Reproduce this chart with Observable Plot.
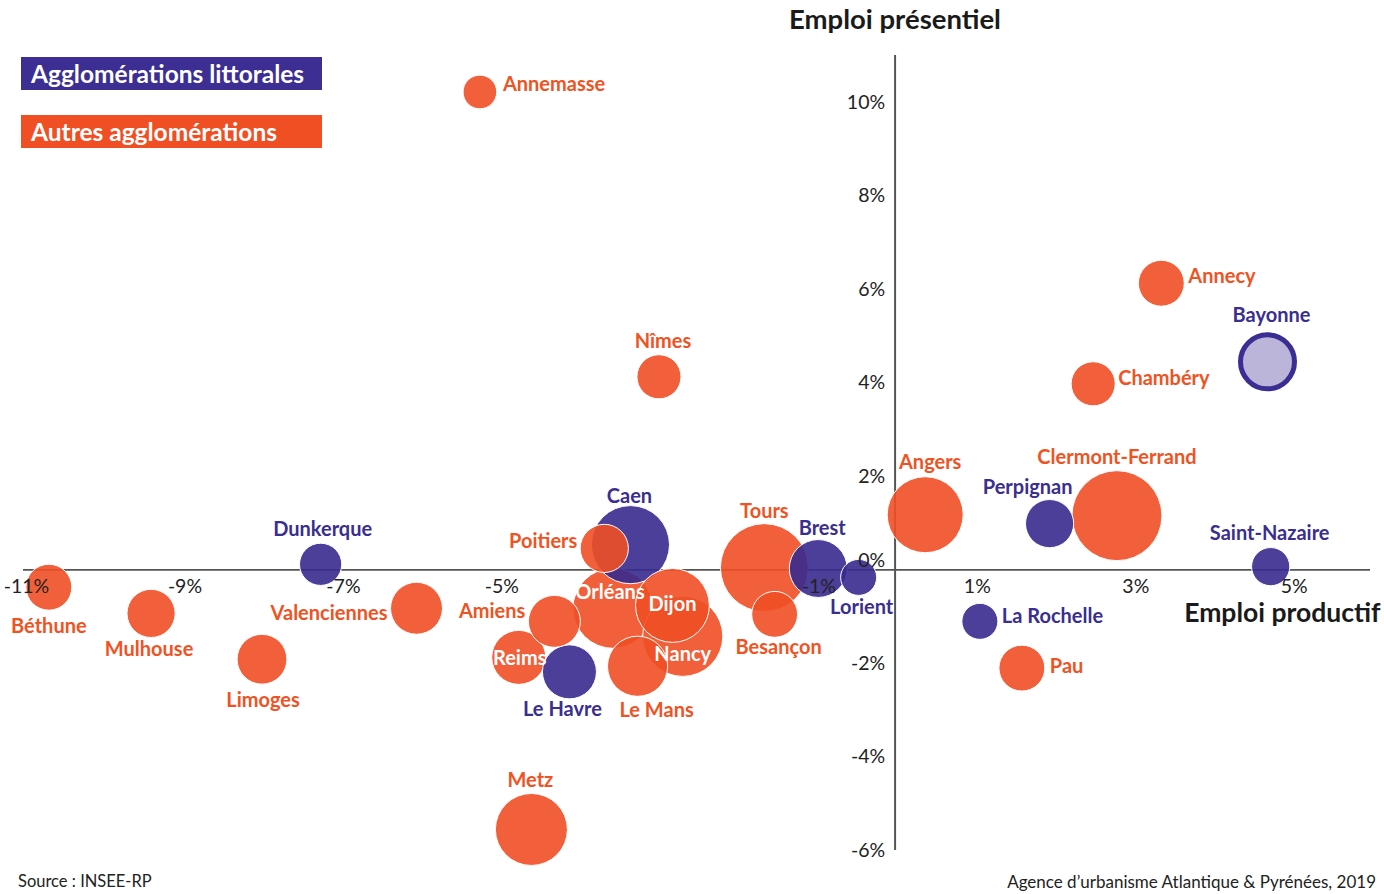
<!DOCTYPE html>
<html><head><meta charset="utf-8">
<script src="https://cdn.jsdelivr.net/npm/d3@7"></script>
<script src="https://cdn.jsdelivr.net/npm/@observablehq/plot@0.6"></script>
<style>
body{margin:0;background:#fff;font-family:Lato,"Open Sans",sans-serif;}
#wrap{position:relative;width:1384px;height:894px;overflow:hidden;}
#title{position:relative;height:40px;}
#title span{position:absolute;left:789px;top:2px;font-weight:700;font-size:27.5px;color:#1a1a1a;white-space:nowrap;}
.leg{position:absolute;left:21px;width:301px;height:33px;color:#fff;font-weight:700;font-size:24.5px;line-height:33px;padding-left:10px;box-sizing:border-box;white-space:nowrap;}
#footer{position:relative;height:24px;font-size:16.5px;color:#222;}
#footer span{position:absolute;top:1px;white-space:nowrap;}
</style></head>
<body>
<div id="wrap">
  <div id="title"><span>Emploi présentiel</span></div>
  <div id="chart"></div>
  <div id="footer"><span style="left:18px">Source : INSEE-RP</span><span style="right:8px;font-size:17px">Agence d’urbanisme Atlantique &amp; Pyrénées, 2019</span></div>
  <div class="leg" style="top:57px;background:#3C2E92">Agglomérations littorales</div>
  <div class="leg" style="top:115px;background:#F04E23">Autres agglomérations</div>
</div>
<script>
// ---- Data ----
const cities = ["Annemasse","Nîmes","Dunkerque","Béthune","Mulhouse","Limoges","Valenciennes","Orléans","Amiens","Caen","Poitiers","Reims","Le Havre","Le Mans","Nancy","Dijon","Metz","Tours","Brest","Lorient","Besançon","Angers","Clermont-Ferrand","Perpignan","Chambéry","Annecy","Bayonne","Saint-Nazaire","La Rochelle","Pau"];
const groups = ["Autres","Autres","Littorales","Autres","Autres","Autres","Autres","Autres","Autres","Littorales","Autres","Autres","Littorales","Autres","Autres","Autres","Autres","Autres","Littorales","Littorales","Autres","Autres","Autres","Littorales","Autres","Autres","Littorales","Littorales","Littorales","Autres"];
// Évolution de l'emploi productif (%)
const productif = [-5.24,-2.98,-7.25,-10.68,-9.39,-7.99,-6.04,-3.56,-4.30,-3.34,-3.67,-4.75,-4.11,-3.25,-2.68,-2.81,-4.59,-1.65,-0.97,-0.46,-1.52,0.38,2.80,1.95,2.50,3.36,4.70,4.74,1.07,1.60];
// Évolution de l'emploi présentiel (%)
const presentiel = [10.22,4.13,0.12,-0.37,-0.93,-1.91,-0.82,-0.82,-1.10,0.54,0.46,-1.87,-2.18,-2.06,-1.42,-0.76,-5.55,0.05,0.03,-0.16,-0.95,1.18,1.16,0.99,3.98,6.13,4.45,0.07,-1.10,-2.10];
// Emplois (milliers, estimés d'après la taille des bulles)
const emplois = [21,36,33,39,43,46,50,119,50,113,43,54,54,67,119,101,96,143,62,24,39,107,150,43,36,39,54,27,24,39];
const xTicks = [-11,-9,-7,-5,-1,1,3,5];
const yTicks = [-6,-4,-2,2,4,6,8,10];
const yZero = [0];

// ---- Styles ----
const ORANGE = "#EF4F25", PURPLE = "#372A8F";
const LBL_OR = "#EF5323", LBL_PU = "#3A2E8F";
// label placement: [dx, dy, anchor, white-inside]
const labelPlacement = {
  "Annemasse":[23,-7,"start"], "Nîmes":[4,-35], "Caen":[-1,-48], "Poitiers":[-27,-7,"end"],
  "Dunkerque":[2,-35], "Béthune":[0,39], "Mulhouse":[-2,36], "Limoges":[1,41],
  "Valenciennes":[-29,5,"end"], "Amiens":[-29,-10,"end"], "Orléans":[-3,-16,"middle",true],
  "Dijon":[0,-1,"middle",true], "Nancy":[0,18,"middle",true], "Reims":[1,1,"middle",true],
  "Le Havre":[-7,38], "Le Mans":[19,44], "Metz":[-1,-49], "Tours":[0,-56], "Besançon":[4,33],
  "Brest":[4,-40], "Lorient":[3,30], "Angers":[5,-52], "Perpignan":[-22,-36],
  "Clermont-Ferrand":[0,-58], "Chambéry":[25,-5,"start"], "Annecy":[27,-7,"start"],
  "Bayonne":[4,-46], "Saint-Nazaire":[-1,-33], "La Rochelle":[22,-5,"start"], "Pau":[28,-2,"start"]
};

const data = cities.map((c,i)=>({city:c, group:groups[i], x:productif[i], y:presentiel[i], emplois:emplois[i]}));

const labelMarks = data.map(d => {
  const [dx,dy,anchor="middle",inside=false] = labelPlacement[d.city];
  return Plot.text([d], {x:"x", y:"y", text:"city", dx, dy, textAnchor:anchor,
    fill: inside ? "#fff" : (d.group==="Littorales" ? LBL_PU : LBL_OR),
    fontWeight:700, fontSize:20});
});

const chart = Plot.plot({
  width:1384, height:830,
  marginLeft:23, marginRight:14, marginTop:15, marginBottom:20,
  style:{fontFamily:"Lato, 'Open Sans', sans-serif", overflow:"visible", background:"transparent"},
  x:{domain:[-11,6], axis:null},
  y:{domain:[-6,11], axis:null},
  r:{domain:[0,150], range:[0,45]},
  marks:[
    Plot.ruleY([0], {x1:-11, x2:6, stroke:"#555", strokeWidth:1.6}),
    Plot.ruleX([0], {y1:-6, y2:11, stroke:"#555", strokeWidth:2}),
    Plot.dot(data.filter(d=>d.city!=="Bayonne"), {x:"x", y:"y", r:"emplois",
      fill:d=>d.group==="Littorales"?PURPLE:ORANGE, fillOpacity:0.9, stroke:"#fff", strokeWidth:1}),
    Plot.dot(data.filter(d=>d.city==="Bayonne"), {x:"x", y:"y", r:"emplois",
      fill:"#BAB5D9", stroke:"#3A2E93", strokeWidth:5}),
    Plot.text(xTicks, {x:d=>d, y:()=>0, text:d=>d+"%", dy:17, dx:3, fontSize:19.5, fill:"#222"}),
    Plot.text(yTicks, {x:()=>0, y:d=>d, text:d=>d+"%", dx:-10, textAnchor:"end", fontSize:19.5, fill:"#222"}),
    Plot.text(yZero, {x:()=>0, y:d=>d, text:d=>d+"%", dx:-10, dy:-9, textAnchor:"end", fontSize:19.5, fill:"#222"}),
    ...labelMarks,
    Plot.text(["Emploi productif"], {x:()=>6, y:()=>0, text:d=>d, dx:10, dy:44, textAnchor:"end", fontWeight:700, fontSize:26.5, fill:"#1a1a1a"})
  ]
});
document.getElementById("chart").appendChild(chart);
</script>
</body></html>
